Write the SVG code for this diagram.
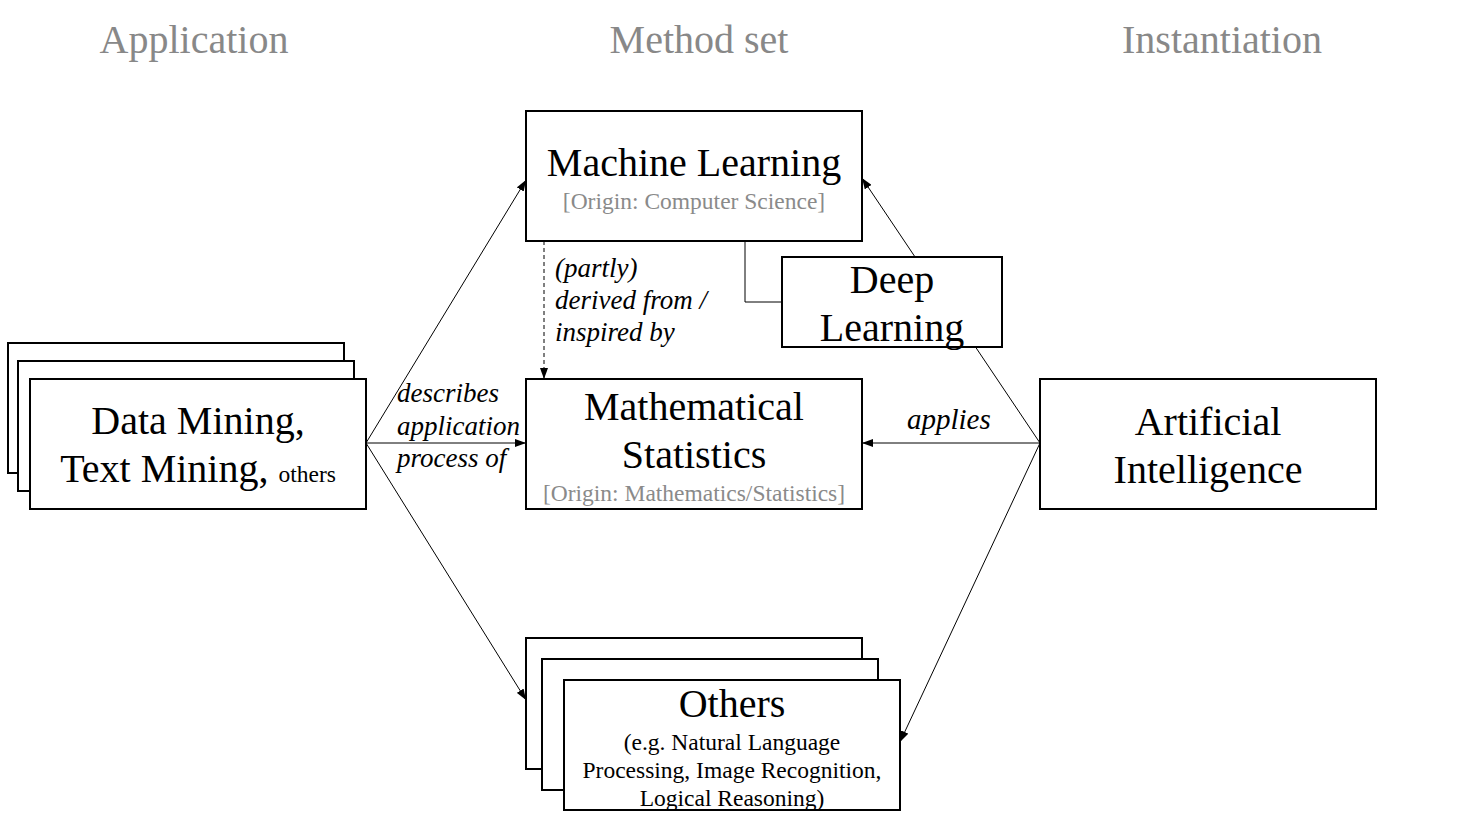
<svg xmlns="http://www.w3.org/2000/svg" width="1457" height="836" viewBox="0 0 1457 836">
<defs>
<marker id="ah" markerUnits="userSpaceOnUse" markerWidth="11" markerHeight="8" refX="11" refY="4" orient="auto">
<path d="M0,0 L11,4 L0,8 z" fill="#000"/>
</marker>
<style>
.box{fill:#fff;stroke:#000;stroke-width:2}
.con{fill:none;stroke:#000;stroke-width:1}
.t{font-family:"Liberation Serif","Times New Roman",serif;fill:#000;text-anchor:middle}
.big{font-size:40px}
.mid{font-size:23.5px}
.gray{fill:#8a8a8a}
.hdr{font-family:"Liberation Serif","Times New Roman",serif;fill:#888;font-size:40px;text-anchor:middle}
.lbl{font-family:"Liberation Serif","Times New Roman",serif;font-style:italic;font-size:27px;fill:#000}
</style>
</defs>
<rect width="1457" height="836" fill="#fff"/>
<g id="headers">
<text class="hdr" x="194" y="53">Application</text>
<text class="hdr" x="699" y="53">Method set</text>
<text class="hdr" x="1222" y="53">Instantiation</text>
</g>
<g id="connectors">
<line class="con" x1="366" y1="443" x2="526" y2="180" marker-end="url(#ah)"/>
<line class="con" x1="366" y1="443" x2="526" y2="443" marker-end="url(#ah)"/>
<line class="con" x1="366" y1="443" x2="526" y2="700" marker-end="url(#ah)"/>
<line class="con" x1="1040" y1="443" x2="862" y2="178" marker-end="url(#ah)"/>
<line class="con" x1="1040" y1="443" x2="862" y2="443" marker-end="url(#ah)"/>
<line class="con" x1="1040" y1="443" x2="900" y2="742" marker-end="url(#ah)"/>
<line class="con" x1="544" y1="241" x2="544" y2="379" stroke-dasharray="4,3" marker-end="url(#ah)"/>
<polyline class="con" points="745,241 745,302 782,302"/>
<text class="lbl" x="397" y="402">describes</text>
<text class="lbl" x="397" y="435">application</text>
<text class="lbl" x="397" y="467">process of</text>
<text class="lbl" x="555" y="277">(partly)</text>
<text class="lbl" x="555" y="309">derived from /</text>
<text class="lbl" x="555" y="341">inspired by</text>
<text class="lbl" x="907" y="429" style="font-size:29px">applies</text>
</g>
<g id="data-mining">
<rect class="box" x="8" y="343" width="336" height="130"/>
<rect class="box" x="18" y="361" width="336" height="130"/>
<rect class="box" x="30" y="379" width="336" height="130"/>
<text class="t big" x="198" y="434">Data Mining,</text>
<text class="t big" x="198" y="482">Text Mining, <tspan class="mid">others</tspan></text>
</g>
<g id="machine-learning">
<rect class="box" x="526" y="111" width="336" height="130"/>
<text class="t big" x="694" y="176">Machine Learning</text>
<text class="t mid gray" x="694" y="209">[Origin: Computer Science]</text>
</g>
<g id="deep-learning">
<rect class="box" x="782" y="257" width="220" height="90"/>
<text class="t big" x="892" y="293">Deep</text>
<text class="t big" x="892" y="341">Learning</text>
</g>
<g id="mathematical-statistics">
<rect class="box" x="526" y="379" width="336" height="130"/>
<text class="t big" x="694" y="420">Mathematical</text>
<text class="t big" x="694" y="468">Statistics</text>
<text class="t mid gray" x="694" y="501">[Origin: Mathematics/Statistics]</text>
</g>
<g id="artificial-intelligence">
<rect class="box" x="1040" y="379" width="336" height="130"/>
<text class="t big" x="1208" y="435">Artificial</text>
<text class="t big" x="1208" y="483">Intelligence</text>
</g>
<g id="others">
<rect class="box" x="526" y="638" width="336" height="131"/>
<rect class="box" x="542" y="659" width="336" height="131"/>
<rect class="box" x="564" y="680" width="336" height="130"/>
<text class="t big" x="732" y="717">Others</text>
<text class="t mid" x="732" y="750">(e.g. Natural Language</text>
<text class="t mid" x="732" y="778">Processing, Image Recognition,</text>
<text class="t mid" x="732" y="806">Logical Reasoning)</text>
</g>
</svg>
